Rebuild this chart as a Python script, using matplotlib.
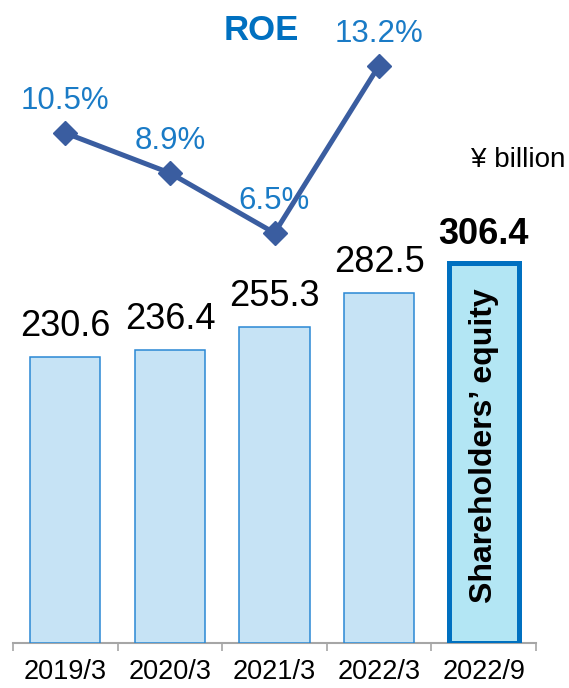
import matplotlib
matplotlib.use("Agg")
import matplotlib.pyplot as plt

plt.rcParams['font.family'] = ['Liberation Sans', 'DejaVu Sans']

categories = ["2019/3", "2020/3", "2021/3", "2022/3", "2022/9"]
equity = [230.6, 236.4, 255.3, 282.5, 306.4]
equity_labels = ["230.6", "236.4", "255.3", "282.5", "306.4"]
roe = [10.5, 8.9, 6.5, 13.2]
roe_labels = ["10.5%", "8.9%", "6.5%", "13.2%"]

W, H = 569, 688
fig = plt.figure(figsize=(W / 100, H / 100), dpi=100)

left_px, right_px = 13, 536
bottom_px, height_px = 45, 595
rect = [left_px / W, bottom_px / H, (right_px - left_px) / W, height_px / H]

ax = fig.add_axes(rect)
ax.set_xlim(-0.5, 4.5)
ax.set_ylim(0, 480)

x = list(range(len(categories)))
bar_colors = ['#C6E3F5'] * 4 + ['#B3E6F4']
edge_colors = ['#2A88D4'] * 4 + ['#0070C0']
lws = [1.1] * 4 + [3.6]
for i in x:
    ax.bar(i, equity[i], width=0.67, color=bar_colors[i], edgecolor=edge_colors[i],
           linewidth=lws[i], zorder=2)

for i in x:
    bold = (i == 4)
    ax.annotate(equity_labels[i], xy=(i, equity[i]), xytext=(0, 15 if not bold else 13.5),
                textcoords='offset points', ha='center', va='baseline',
                fontsize=26, fontweight='bold' if bold else 'normal', color='black')

ax.text(4, equity[4] * 0.52, "Shareholders\u2019 equity", rotation=90, ha='center', va='center',
        fontsize=23, fontweight='bold', color='black', zorder=3)

for s in ['top', 'right', 'left']:
    ax.spines[s].set_visible(False)
ax.spines['bottom'].set_color('#A6A6A6')
ax.spines['bottom'].set_linewidth(1.5)
ax.spines['bottom'].set_zorder(1)
ax.set_yticks([])
ax.set_xticks(x)
ax.set_xticklabels(categories, fontsize=19.5)
ax.tick_params(axis='x', which='major', length=0, pad=11.5)
ax.set_xticks([i - 0.5 for i in range(len(categories) + 1)], minor=True)
ax.tick_params(axis='x', which='minor', length=6, width=1.2, color='#A6A6A6', direction='out')

# ROE line overlay
ax2 = fig.add_axes(rect)
ax2.set_xlim(-0.5, 4.5)
ax2.set_ylim(-9.9, 13.9)
ax2.axis('off')
ax2.patch.set_alpha(0)
xr = list(range(len(roe)))
ax2.plot(xr, roe, color='#3A5DA0', linewidth=3.6, marker='D', markersize=12,
         markerfacecolor='#3A5DA0', markeredgecolor='#3A5DA0', clip_on=False, zorder=4)
for i in xr:
    ax2.annotate(roe_labels[i], xy=(i, roe[i]), xytext=(0, 17), textcoords='offset points',
                 ha='center', va='baseline', fontsize=22.5, color='#1A7BC6', annotation_clip=False)

fig.text(261 / W, 1 - 40 / H, "ROE", ha='center', va='baseline', fontsize=25,
         fontweight='bold', color='#0070C0')
fig.text(565 / W, 1 - 167 / H, "\u00a5 billion", ha='right', va='baseline', fontsize=20,
         color='black')

fig.savefig("out.png", dpi=100)
